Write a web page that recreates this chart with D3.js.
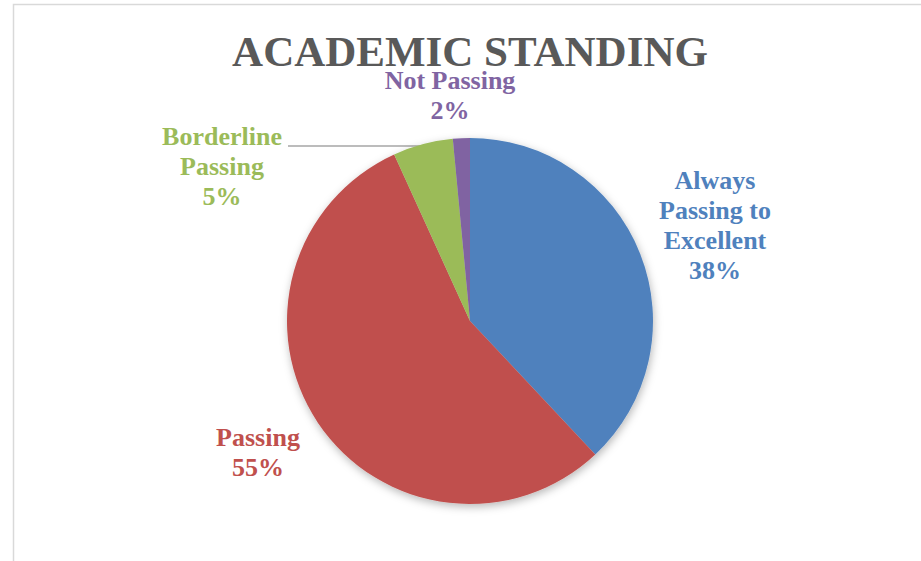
<!DOCTYPE html>
<html>
<head>
<meta charset="utf-8">
<script src="https://cdn.jsdelivr.net/npm/d3@7"></script>
<style>
 body { margin: 0; background: #fff; }
 text { font-family: "Liberation Serif", "Times New Roman", serif; font-weight: bold; }
</style>
</head>
<body>
<svg width="921" height="561"></svg>
<script>
// Data
var categories = ["Always Passing to Excellent", "Passing", "Borderline Passing", "Not Passing"];
var values = [38.0, 55.2, 5.3, 1.5];
var percentLabels = ["38%", "55%", "5%", "2%"];
var colors = ["#4F81BD", "#C0504D", "#9BBB59", "#8064A2"];

// label layout: lines of each label and where the block sits
var labelLines = [["Always", "Passing to", "Excellent"], ["Passing"], ["Borderline", "Passing"], ["Not Passing"]];
var labelAnchor = [[715, 189], [258, 446], [222, 145], [450, 89]];

var svg = d3.select("svg"),
  width = +svg.attr("width"),
  height = +svg.attr("height");

var cx = 470, cy = 321, radius = 183;

// chart frame (only left and top edges visible)
svg.append("path")
  .attr("d", "M13.5," + height + "V4.5H" + width)
  .attr("fill", "none")
  .attr("stroke", "#d9d9d9")
  .attr("stroke-width", 1.5);

// shadow
var defs = svg.append("defs");
var f = defs.append("filter").attr("id", "shadow")
  .attr("x", "-20%").attr("y", "-20%").attr("width", "140%").attr("height", "140%");
f.append("feDropShadow")
  .attr("dx", 1).attr("dy", 3)
  .attr("stdDeviation", 4)
  .attr("flood-color", "#000")
  .attr("flood-opacity", 0.28);

// Title
svg.append("text")
  .attr("x", 470)
  .attr("y", 66)
  .attr("text-anchor", "middle")
  .attr("fill", "#595959")
  .style("font-size", "43px")
  .text("ACADEMIC STANDING");

var pie = d3.pie().sort(null).value(function (d) { return d; });
var arc = d3.arc().innerRadius(0).outerRadius(radius);
var arcs = pie(values);

// leader line for Borderline Passing (behind the pie)
var ly = 146;
svg.append("line")
  .attr("x1", 288).attr("y1", ly)
  .attr("x2", cx - Math.sqrt(radius * radius - (cy - ly) * (cy - ly)) + 8).attr("y2", ly)
  .attr("stroke", "#a6a6a6")
  .attr("stroke-width", 1.5);

var g = svg.append("g")
  .attr("transform", "translate(" + cx + "," + cy + ")")
  .attr("filter", "url(#shadow)");

g.selectAll("path")
  .data(arcs)
  .enter().append("path")
  .attr("d", arc)
  .attr("fill", function (d, i) { return colors[i]; });

// Labels
var lineH = 30;
var lbl = svg.append("g").selectAll("text")
  .data(arcs)
  .enter().append("text")
  .attr("text-anchor", "middle")
  .attr("fill", function (d, i) { return colors[i]; })
  .style("font-size", "26px");

lbl.each(function (d, i) {
  var t = d3.select(this);
  var lines = labelLines[i].concat([percentLabels[i]]);
  lines.forEach(function (s, j) {
    t.append("tspan")
      .attr("x", labelAnchor[i][0])
      .attr("y", labelAnchor[i][1] + j * lineH)
      .text(s);
  });
});
</script>
</body>
</html>
